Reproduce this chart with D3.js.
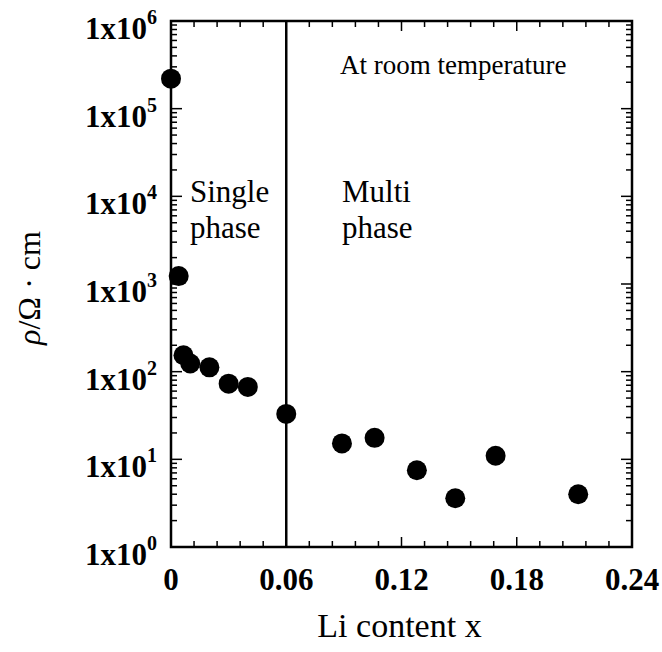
<!DOCTYPE html>
<html>
<head>
<meta charset="utf-8">
<script src="https://cdn.jsdelivr.net/npm/d3@7/dist/d3.min.js"></script>
<style>
  html, body { margin: 0; padding: 0; background: #fff; }
  svg { display: block; }
  text { font-family: "Liberation Serif", "Times New Roman", serif; fill: #000; }
</style>
</head>
<body>
<div id="chart"></div>
<script>
// Li content x
const liContent = [0, 0.004, 0.0065, 0.01, 0.02, 0.03, 0.04, 0.06, 0.089, 0.106, 0.128, 0.148, 0.169, 0.212];
// resistivity rho / Ohm cm
const resistivity = [2.2e5, 1230, 154, 124, 112, 73, 67, 33, 15.2, 17.6, 7.5, 3.6, 11, 4.0];

const xTickValues = [0, 0.06, 0.12, 0.18, 0.24];
const xTickLabels = ["0", "0.06", "0.12", "0.18", "0.24"];
const yExponents = [0, 1, 2, 3, 4, 5, 6];
const phaseBoundary = 0.06;

const width = 662, height = 652;
const margin = { top: 21, right: 30, bottom: 105, left: 171 };
const innerW = width - margin.left - margin.right;
const innerH = height - margin.top - margin.bottom;

const svg = d3.select("#chart").append("svg")
  .attr("width", width)
  .attr("height", height);

const g = svg.append("g").attr("transform", `translate(${margin.left},${margin.top})`);

const x = d3.scaleLinear().domain([0, 0.24]).range([0, innerW]);
const y = d3.scaleLog().domain([1, 1e6]).range([innerH, 0]);

// minor ticks
const xMinor = d3.range(0, 0.2401, 0.012).map(v => +v.toFixed(3));
const yMinor = [];
for (let e = 0; e < 6; e++) {
  for (let m = 2; m <= 9; m++) yMinor.push(m * Math.pow(10, e));
}

const tickG = g.append("g").attr("stroke", "#000").attr("stroke-width", 1.5);

// bottom & top ticks (inward)
xMinor.forEach(v => {
  const major = xTickValues.some(t => Math.abs(t - v) < 1e-6);
  const len = major ? 10 : 6;
  tickG.append("line").attr("x1", x(v)).attr("x2", x(v)).attr("y1", innerH).attr("y2", innerH - len);
  tickG.append("line").attr("x1", x(v)).attr("x2", x(v)).attr("y1", 0).attr("y2", len);
});

// left & right ticks (inward)
yExponents.forEach(e => {
  const v = Math.pow(10, e);
  tickG.append("line").attr("x1", 0).attr("x2", 11).attr("y1", y(v)).attr("y2", y(v));
  tickG.append("line").attr("x1", innerW).attr("x2", innerW - 11).attr("y1", y(v)).attr("y2", y(v));
});
yMinor.forEach(v => {
  tickG.append("line").attr("x1", 0).attr("x2", 6).attr("y1", y(v)).attr("y2", y(v));
  tickG.append("line").attr("x1", innerW).attr("x2", innerW - 6).attr("y1", y(v)).attr("y2", y(v));
});

// frame
g.append("rect")
  .attr("x", 0).attr("y", 0)
  .attr("width", innerW).attr("height", innerH)
  .attr("fill", "none")
  .attr("stroke", "#000")
  .attr("stroke-width", 2.5);

// phase boundary
g.append("line")
  .attr("x1", x(phaseBoundary)).attr("x2", x(phaseBoundary))
  .attr("y1", 0).attr("y2", innerH)
  .attr("stroke", "#000")
  .attr("stroke-width", 2.5);

// x tick labels
g.selectAll(".xlab")
  .data(xTickValues)
  .join("text")
  .attr("x", d => x(d))
  .attr("y", innerH + 43)
  .attr("text-anchor", "middle")
  .attr("font-size", 31)
  .attr("font-weight", "bold")
  .text((d, i) => xTickLabels[i]);

// y tick labels: 1x10^n
const ylab = g.selectAll(".ylab")
  .data(yExponents)
  .join("text")
  .attr("x", -14)
  .attr("y", d => y(Math.pow(10, d)) + 18)
  .attr("text-anchor", "end")
  .attr("font-size", 31)
  .attr("font-weight", "bold");
ylab.append("tspan").text("1x10");
ylab.append("tspan")
  .attr("font-size", 20)
  .attr("dy", -15)
  .text(d => d);

// data points
g.selectAll("circle")
  .data(liContent.map((v, i) => [v, resistivity[i]]))
  .join("circle")
  .attr("cx", d => x(d[0]))
  .attr("cy", d => y(d[1]))
  .attr("r", 10)
  .attr("fill", "#000");

// annotations
g.append("text")
  .attr("x", 169).attr("y", 53)
  .attr("font-size", 27)
  .text("At room temperature");

const single = g.append("text").attr("font-size", 31);
single.append("tspan").attr("x", 19).attr("y", 181).text("Single");
single.append("tspan").attr("x", 19).attr("y", 217).text("phase");

const multi = g.append("text").attr("font-size", 31);
multi.append("tspan").attr("x", 171).attr("y", 181).text("Multi");
multi.append("tspan").attr("x", 171).attr("y", 217).text("phase");

// axis titles
svg.append("text")
  .attr("x", margin.left + innerW / 2 - 2)
  .attr("y", 637)
  .attr("text-anchor", "middle")
  .attr("font-size", 34)
  .text("Li content x");

const yt = svg.append("text")
  .attr("transform", "translate(40,288) rotate(-90)")
  .attr("text-anchor", "middle")
  .attr("font-size", 32);
yt.append("tspan").attr("font-style", "italic").text("ρ");
yt.append("tspan").text("/Ω · cm");
</script>
</body>
</html>
